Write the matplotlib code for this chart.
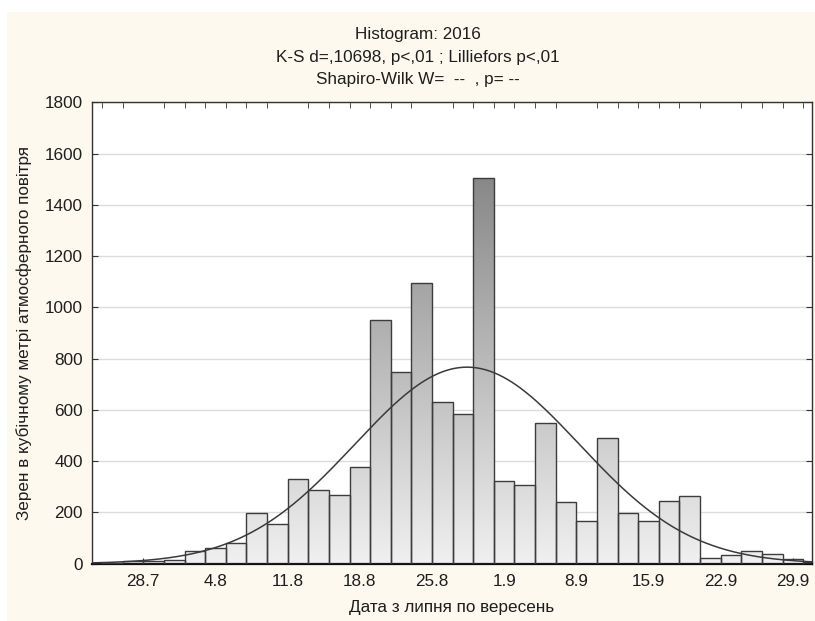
import numpy as np
import matplotlib
matplotlib.use('Agg')
import matplotlib.pyplot as plt
from matplotlib.colors import LinearSegmentedColormap
from matplotlib.patches import Rectangle

# Histogram data: 2-day bins, x in days counted from 1 July
bin_width = 2
bin_starts = np.arange(24, 94, bin_width)
counts = [3, 12, 11, 13, 48, 60, 79, 199, 153, 329,
          286, 266, 378, 950, 749, 1096, 632, 583, 1506, 322,
          307, 550, 239, 167, 491, 199, 167, 244, 265, 23,
          35, 49, 38, 18, 5]

# fitted normal
fit_mean = 59.4
fit_sd = 10.9

tick_days = [28, 35, 42, 49, 56, 63, 70, 77, 84, 91]
tick_labels = ['28.7', '4.8', '11.8', '18.8', '25.8', '1.9', '8.9', '15.9', '22.9', '29.9']
y_ticks = list(range(0, 1801, 200))

title_lines = ['Histogram: 2016',
               'K-S d=,10698, p<,01 ; Lilliefors p<,01',
               'Shapiro-Wilk W=  --  , p= --']
xlabel = 'Дата з липня по вересень'
ylabel = 'Зерен в кубічному метрі атмосферного повітря'

plt.rcParams['font.family'] = ['Liberation Sans', 'DejaVu Sans']
W, H = 815, 621
FS = 12.3
TXT = '#1e1e1e'
fig = plt.figure(figsize=(W / 100, H / 100), dpi=100)
fig.patch.set_facecolor('white')
fig.patches.append(Rectangle((7 / W, 0), 1, (H - 12) / H, transform=fig.transFigure,
                             facecolor='#fdf9ef', edgecolor='none', zorder=-10))

ax = fig.add_axes([91.7 / W, (H - 563.6) / H, (812 - 91.7) / W, (563.6 - 102.3) / H])
ax.set_facecolor('white')

xmin, xmax = 23, 92.85
ymax = 1800

# bars with a vertical grey gradient (darker the higher)
cmap = LinearSegmentedColormap.from_list('grey', ['#f0f0f0', '#747474'])
grad = np.linspace(0, 1, 256).reshape(-1, 1)
bars = ax.bar(bin_starts, counts, width=bin_width, align='edge',
              facecolor='none', edgecolor='#3c3c3c', lw=1.0, zorder=3)
for b in bars:
    x0 = b.get_x()
    im = ax.imshow(grad, extent=[x0, x0 + bin_width, 0, ymax], origin='lower',
                   cmap=cmap, vmin=0, vmax=1, aspect='auto', zorder=2)
    im.set_clip_path(b)

# normal curve
total = sum(counts)
xs = np.linspace(xmin, xmax, 500)
ys = total * bin_width * np.exp(-0.5 * ((xs - fit_mean) / fit_sd) ** 2) / (fit_sd * np.sqrt(2 * np.pi))
ax.plot(xs, ys, color='#3a3a3a', lw=1.1, zorder=4)

ax.set_xlim(xmin, xmax)
ax.set_ylim(0, ymax)
ax.set_yticks(y_ticks)
ax.set_xticks(tick_days, tick_labels)
ax.set_xticks(np.arange(24, 94, bin_width), minor=True)
ax.yaxis.grid(True, color='#dcdcdc', lw=1)
ax.set_axisbelow(True)

ax.tick_params(axis='x', which='major', direction='in', length=4, top=False, bottom=True,
               labelsize=FS, pad=7.5, color='#333333', labelcolor=TXT)
ax.tick_params(axis='x', which='minor', direction='in', length=4, top=True, bottom=False,
               color='#333333')
ax.tick_params(axis='y', direction='in', length=4, left=True, right=True,
               labelsize=FS, pad=6.5, color='#333333', labelcolor=TXT)
for s in ax.spines.values():
    s.set_color('#333333')
    s.set_linewidth(1)
ax.spines['bottom'].set_linewidth(1.6)
ax.spines['bottom'].set_color('#111111')

ax.set_xlabel(xlabel, fontsize=FS, color=TXT)
ax.xaxis.set_label_coords(0.5, -(600 - 563.6) / (563.6 - 102.3))
ax.set_ylabel(ylabel, fontsize=FS, color=TXT)
ax.yaxis.set_label_coords(-(91.7 - 31.5) / (812 - 91.7), 0.5)

for i, line in enumerate(title_lines):
    fig.text(418 / W, 1 - (39.5 + 22.3 * i) / H, line, ha='center', va='baseline',
             fontsize=FS, color=TXT)

fig.savefig('out.png', dpi=100, facecolor=fig.get_facecolor())
